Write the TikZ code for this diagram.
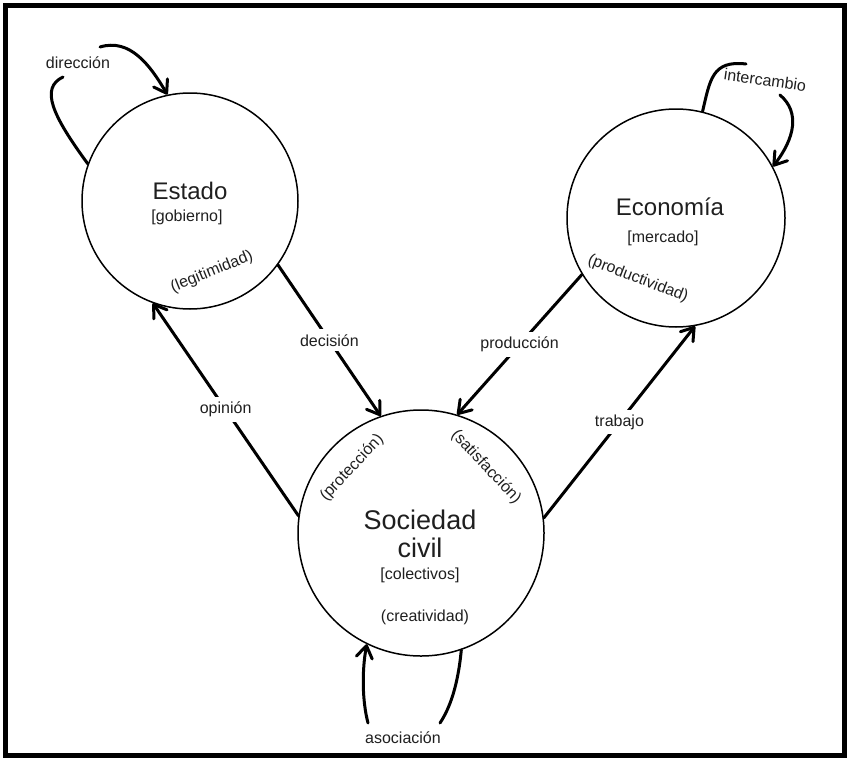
\documentclass[tikz,border=0pt]{standalone}
\usepackage{fontspec}
\setmainfont{Liberation Sans}
\usetikzlibrary{arrows.meta}
\begin{document}
\begin{tikzpicture}[x=1pt,y=-1pt,
  circ/.style={circle,draw,line width=1.5pt,minimum size=#1,inner sep=0pt},
  arr/.style={line width=3pt,line cap=round,-{Straight Barb[length=12pt,width=16pt,round]}},
  lbl/.style={fill=white,font=\fontsize{16}{18}\selectfont,inner sep=5pt,text=black!88},
  lblt/.style={font=\fontsize{16}{18}\selectfont,inner sep=1pt,text=black!88},
  ttl/.style={font=\fontsize{24}{28}\selectfont,text=black!88},
  big/.style={font=\fontsize{27}{31}\selectfont,text=black!88},
  sub/.style={font=\fontsize{16}{18}\selectfont,text=black!88}]
\useasboundingbox (0,0) rectangle (850,760);
\draw[line width=5pt] (5.5,5.5) rectangle (844.5,755);
% circles
\node[circ=216pt] (estado) at (190,201) {};
\node[circ=218pt] (econ) at (676,218) {};
\node[circ=246pt] (soc) at (421,533) {};
% texts inside
\node[ttl] (tE) at (190,191) {Estado};
\node[sub] (sE) at (187,217) {[gobierno]};
\node[sub,rotate=22] (lE) at (212,272) {(legitimidad)};
\node[ttl] (tEc) at (670,207) {Economía};
\node[sub] (sEc) at (663,238) {[mercado]};
\node[sub,rotate=-21] (lEc) at (638,279) {(productividad)};
\node[big] (tS) at (420,520) {Sociedad};
\node[big] (tS2) at (420,548) {civil};
\node[sub] (sS) at (420,575) {[colectivos]};
\node[sub] (cS) at (425,617) {(creatividad)};
\node[sub,rotate=47] (pS) at (352,468) {(protección)};
\node[sub,rotate=-47] (saS) at (486,467) {(satisfacción)};
% straight connectors
\draw[arr] (estado.-36) -- node[lbl] {decisión} (soc.109);
\draw[arr] (soc.172) -- node[lbl] {opinión} (estado.-110);
\draw[arr] (econ.-149) -- node[lbl] {producción} (soc.73);
\draw[arr] (soc.7) -- node[lbl] {trabajo} (econ.-80);
% loops
\coordinate (d1) at (63,77);
\coordinate (d2) at (100,47);
\draw[arr] (estado.160) .. controls (52,115) and (40,88) .. (d1)
  (d2) .. controls (130,38) and (150,65) .. (estado.102);
\node[lblt] (ldir) at (78,63) {dirección};
\coordinate (i1) at (746,64);
\coordinate (i2) at (780,95);
\draw[arr] (econ.76) .. controls (710,80) and (712,60) .. (i1)
  (i2) .. controls (800,112) and (795,138) .. (econ.28);
\node[lblt,rotate=-8] (lint) at (765,80) {intercambio};
\coordinate (a1) at (440,723);
\coordinate (a2) at (368,723);
\draw[arr] (soc.-71) .. controls (458,685) and (450,708) .. (a1)
  (a2) .. controls (362,700) and (362,670) .. (soc.-116);
\node[lblt] (lasoc) at (403,738) {asociación};
\end{tikzpicture}
\end{document}
